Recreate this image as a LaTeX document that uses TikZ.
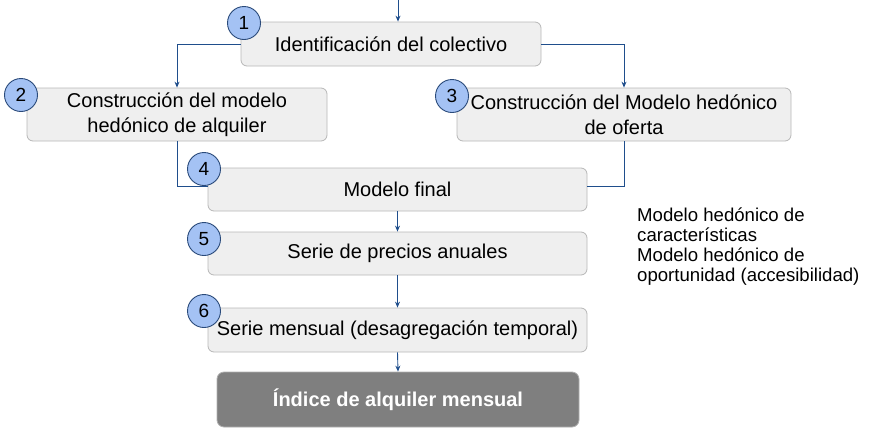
\documentclass[tikz,border=0pt]{standalone}
\usepackage{fontspec}
\setmainfont{Liberation Sans}
\usetikzlibrary{arrows.meta}
\definecolor{boxfill}{HTML}{EFEFEF}
\definecolor{boxline}{HTML}{B7B7B7}
\definecolor{circfill}{HTML}{A4C2F4}
\definecolor{circline}{HTML}{2A4A7A}
\definecolor{conn}{HTML}{1F4E8C}
\definecolor{darkfill}{HTML}{7F7F7F}
\definecolor{darkline}{HTML}{B0B0B0}
\tikzset{
  stepbox/.style={draw=boxline, fill=boxfill, rounded corners=6pt, line width=0.8pt,
    align=center, inner sep=0pt, font=\fontsize{20}{25}\selectfont},
  finalbox/.style={draw=darkline, fill=darkfill, rounded corners=7pt, line width=0.8pt,
    align=center, inner sep=0pt, text=white, font=\fontsize{20}{25}\selectfont\bfseries},
  numcirc/.style={circle, draw=circline, fill=circfill, line width=0.9pt,
    minimum size=33pt, inner sep=0pt, font=\fontsize{19}{22}\selectfont},
  conline/.style={draw=conn, line width=0.9pt},
  conarrow/.style={conline, -{Stealth[length=6pt,width=5pt]}},
}
\begin{document}
\begin{tikzpicture}[x=1pt,y=-1pt]
\useasboundingbox (0,0) rectangle (876,437);
\node[stepbox, minimum width=300pt, minimum height=44pt] (b1) at (391,44) {Identificación del colectivo};
\node[stepbox, minimum width=300pt, minimum height=53pt] (b2) at (177,114.5) {Construcción del modelo\\hedónico de alquiler};
\node[stepbox, minimum width=334pt, minimum height=53pt] (b3) at (624,114.5) {Construcción del Modelo hedónico\\de oferta};
\node[stepbox, minimum width=379pt, minimum height=43pt] (b4) at (397.5,189.5) {Modelo final};
\node[stepbox, minimum width=379pt, minimum height=43pt] (b5) at (397.5,253.5) {Serie de precios anuales};
\node[stepbox, minimum width=379pt, minimum height=44pt] (b6) at (397.5,330) {Serie mensual (desagregación temporal)};
\node[finalbox, minimum width=362pt, minimum height=55pt] (b7) at (398,399.5) {Índice de alquiler mensual};

\node[anchor=west, align=left, inner sep=0pt, font=\fontsize{18.6}{20}\selectfont] (side) at (637,247)
  {Modelo hedónico de\\características\\Modelo hedónico de\\oportunidad (accesibilidad)};

\coordinate (top) at (398,0);
\draw[conarrow] (top) -- (b1.north -| top);
\draw[conarrow] (b1.west) -| (b2.north);
\draw[conarrow] (b1.east) -| (b3.north);
\draw[conline] (b2.south) |- ([yshift=3.5pt]b4.west);
\draw[conline] (b3.south) |- ([yshift=3.5pt]b4.east);
\draw[conarrow] (b4.south) -- (b5.north);
\draw[conarrow] (b5.south) -- (b6.north);
\draw[conarrow] (b6.south) -- (b7.north);

\node[numcirc] (c1) at (244,23) {1};
\node[numcirc] (c2) at (21,95) {2};
\node[numcirc] (c3) at (452,96) {3};
\node[numcirc] (c4) at (204,169) {4};
\node[numcirc] (c5) at (204,239) {5};
\node[numcirc] (c6) at (204,311) {6};
\end{tikzpicture}
\end{document}
